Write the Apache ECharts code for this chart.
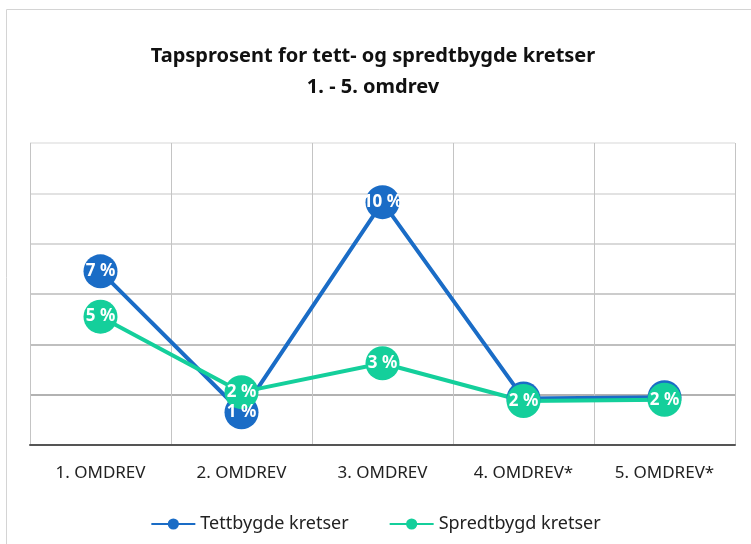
<!DOCTYPE html>
<html lang="no">
<head>
    <meta charset="UTF-8">
    <title>Tapsprosent for tett- og spredtbygde kretser</title>
    <style>
        * { margin: 0; padding: 0; box-sizing: border-box; }
        body { background: #fff; }
        #chart { width: 751px; height: 544px; }
    </style>
</head>
<body>
    <div id="chart"></div>

    <script src="https://cdn.jsdelivr.net/npm/echarts@6/dist/echarts.min.js"></script>
    <script>
        // data (percent)
        const categories = ['1. OMDREV', '2. OMDREV', '3. OMDREV', '4. OMDREV*', '5. OMDREV*'];
        const tettbygde = [6.9, 1.3, 9.65, 1.85, 1.9];
        const spredtbygd = [5.1, 2.1, 3.25, 1.75, 1.8];

        const blue = '#1a6cc6';
        const teal = '#14cf9b';
        const font = '"Noto Sans", "Open Sans", sans-serif';

        const chart = echarts.init(document.getElementById('chart'));

        function pointLabel() {
            return {
                show: true,
                position: 'inside',
                color: '#fff',
                fontFamily: font,
                fontWeight: 'bold',
                fontSize: 17,
                formatter: p => Math.round(p.value) + ' %'
            };
        }

        // blue labels sit under the green markers where the two points overlap
        const tettData = tettbygde.map((v, i) => {
            const hidden = Math.abs(v - spredtbygd[i]) < 0.5;
            return hidden ? { value: v, label: { show: false } } : v;
        });

        const option = {
            animation: false,
            title: {
                text: 'Tapsprosent for tett- og spredtbygde kretser\n1. - 5. omdrev',
                left: 368,
                textAlign: 'center',
                top: 36,
                textStyle: {
                    fontFamily: font,
                    fontWeight: 'bold',
                    fontSize: 20,
                    lineHeight: 31,
                    color: '#111'
                }
            },
            graphic: [{
                type: 'rect',
                shape: { x: 6.5, y: 9.5, width: 800, height: 600 },
                style: { fill: 'none', stroke: '#d4d4d4', lineWidth: 1 },
                silent: true
            }],
            legend: {
                top: 510,
                left: 'center',
                itemWidth: 44,
                itemHeight: 14,
                itemGap: 40,
                textStyle: { fontFamily: font, fontSize: 18, color: '#222' },
                data: ['Tettbygde kretser', 'Spredtbygd kretser']
            },
            grid: { left: 30, right: 16, top: 143, bottom: 99 },
            xAxis: {
                type: 'category',
                data: categories,
                boundaryGap: true,
                axisLine: { show: true, lineStyle: { color: '#555', width: 2 } },
                axisTick: { show: false },
                axisLabel: { margin: 20, fontFamily: font, fontSize: 17, color: '#222' },
                splitLine: { show: true, lineStyle: { color: '#c4c4c4', width: 1 } }
            },
            yAxis: {
                type: 'value',
                min: 0,
                max: 12,
                interval: 2,
                axisLine: { show: false },
                axisTick: { show: false },
                axisLabel: { show: false },
                splitLine: {
                    show: true,
                    lineStyle: {
                        color: ['#888', '#999', '#aaa', '#bbb', '#ccc', '#d8d8d8', '#e4e4e4'],
                        width: 1.5
                    }
                }
            },
            series: [
                {
                    name: 'Tettbygde kretser',
                    type: 'line',
                    data: tettData,
                    symbol: 'circle',
                    symbolSize: 34,
                    lineStyle: { color: blue, width: 4 },
                    itemStyle: { color: blue },
                    label: pointLabel()
                },
                {
                    name: 'Spredtbygd kretser',
                    type: 'line',
                    data: spredtbygd,
                    symbol: 'circle',
                    symbolSize: 34,
                    lineStyle: { color: teal, width: 4 },
                    itemStyle: { color: teal },
                    label: pointLabel()
                }
            ]
        };

        chart.setOption(option);
    </script>
</body>
</html>
